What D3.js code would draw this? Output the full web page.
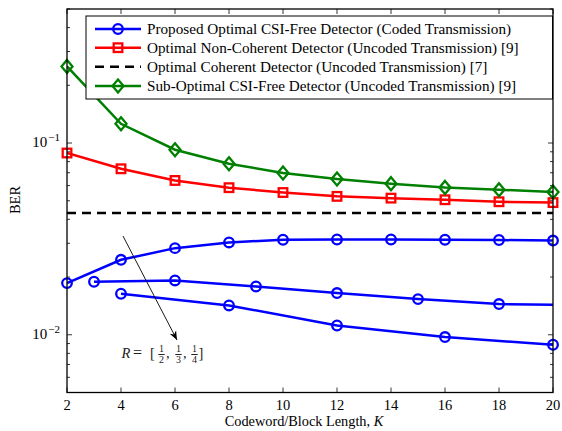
<!DOCTYPE html>
<html><head><meta charset="utf-8">
<script src="https://cdn.jsdelivr.net/npm/d3@7"></script>
<style>body{margin:0;background:#fff}svg{display:block}</style>
</head><body><svg id="c" width="562" height="431" font-family="'Liberation Serif', 'DejaVu Serif', 'Times New Roman', serif"></svg>
<script>
const kTicks = [2,4,6,8,10,12,14,16,18,20];
const kFull = [2,4,6,8,10,12,14,16,18,20];
const berGreen = [0.251,0.126,0.0923,0.078,0.0698,0.0649,0.0614,0.0587,0.0571,0.0555];
const berRed = [0.0887,0.0734,0.0638,0.0585,0.0552,0.0527,0.0516,0.0506,0.0494,0.0489];
const berBlack = 0.0432;
const kHalf = [2,4,6,8,10,12,14,16,18,20];
const berHalf = [0.0186,0.0246,0.0283,0.0303,0.0313,0.0314,0.0314,0.0313,0.0312,0.031];
const kThird = [3,6,9,12,15,18,21];
const berThird = [0.0189,0.0192,0.01786,0.0165,0.01535,0.01446,0.01427];
const kQuarter = [4,8,12,16,20];
const berQuarter = [0.01637,0.01422,0.01118,0.00973,0.00887];
const legendLabels = [
 "Proposed Optimal CSI-Free Detector (Coded Transmission)",
 "Optimal Non-Coherent Detector (Uncoded Transmission) [9]",
 "Optimal Coherent Detector (Uncoded Transmission) [7]",
 "Sub-Optimal CSI-Free Detector (Uncoded Transmission) [9]"];

const svg = d3.select("#c");
const L=67,R=553,T=9,B=392.5;
const x = d3.scaleLinear().domain([2,20]).range([L,R]);
const y = d3.scaleLog().domain([0.005,0.5]).range([B,T]);

svg.append("defs").append("clipPath").attr("id","clip").append("rect")
  .attr("x",L).attr("y",T).attr("width",R-L).attr("height",B-T);

// ticks
const g = svg.append("g");
const tl=5;
kTicks.forEach(k=>{
  g.append("line").attr("x1",x(k)).attr("x2",x(k)).attr("y1",B).attr("y2",B-tl).attr("stroke","#000").attr("stroke-width",0.8);
  g.append("line").attr("x1",x(k)).attr("x2",x(k)).attr("y1",T).attr("y2",T+tl).attr("stroke","#000").attr("stroke-width",0.8);
  g.append("text").attr("x",x(k)).attr("y",410).attr("text-anchor","middle").attr("font-size",14.5).text(k);
});
const yt = y.ticks();
yt.forEach(v=>{
  const major = Math.abs(Math.log10(v)-Math.round(Math.log10(v)))<1e-9;
  const len = major?5:3;
  g.append("line").attr("x1",L).attr("x2",L+len).attr("y1",y(v)).attr("y2",y(v)).attr("stroke","#000").attr("stroke-width",0.8);
  g.append("line").attr("x1",R).attr("x2",R-len).attr("y1",y(v)).attr("y2",y(v)).attr("stroke","#000").attr("stroke-width",0.8);
  if(major){
    const t = g.append("text").attr("x",60).attr("y",y(v)+4).attr("text-anchor","end").attr("font-size",15);
    t.append("tspan").text("10");
    t.append("tspan").attr("dx",1).attr("dy",-6).attr("font-size",11).text("\u2212"+Math.round(-Math.log10(v)));
  }
});

// axis labels
const xl = svg.append("text").attr("x",304).attr("y",425.5).attr("text-anchor","middle").attr("font-size",14.3);
xl.append("tspan").text("Codeword/Block Length, ");
xl.append("tspan").attr("font-style","italic").text("K");
svg.append("text").attr("transform","translate(20,200) rotate(-90)").attr("text-anchor","middle").attr("font-size",14.5).text("BER");

const plot = svg.append("g").attr("clip-path","url(#clip)");
const line = d3.line().x(d=>x(d[0])).y(d=>y(d[1]));
function series(ks,vs,color,marker){
  const pts = ks.map((k,i)=>[k,vs[i]]);
  plot.append("path").attr("d",line(pts)).attr("fill","none").attr("stroke",color).attr("stroke-width",2.5);
  const m = svg.append("g");
  pts.filter(p=>p[0]<=20).forEach(p=>drawMarker(m,x(p[0]),y(p[1]),color,marker));
}
function drawMarker(gr,cx,cy,color,marker){
  if(marker==="o") gr.append("circle").attr("cx",cx).attr("cy",cy).attr("r",4.8).attr("fill","none").attr("stroke",color).attr("stroke-width",2.3);
  else if(marker==="s") gr.append("rect").attr("x",cx-4.3).attr("y",cy-4.3).attr("width",8.6).attr("height",8.6).attr("fill","none").attr("stroke",color).attr("stroke-width",2.3);
  else if(marker==="d") gr.append("path").attr("d",`M${cx},${cy-6.5}L${cx+5.5},${cy}L${cx},${cy+6.5}L${cx-5.5},${cy}Z`).attr("fill","none").attr("stroke",color).attr("stroke-width",2.3);
}
plot.append("line").attr("x1",x(2)).attr("x2",x(20)).attr("y1",y(berBlack)).attr("y2",y(berBlack))
  .attr("stroke","#000").attr("stroke-width",2.5).attr("stroke-dasharray","9,6");
series(kFull,berRed,"#ff0000","s");
series(kFull,berGreen,"#008000","d");
series(kHalf,berHalf,"#0000ff","o");
series(kThird,berThird,"#0000ff","o");
series(kQuarter,berQuarter,"#0000ff","o");

// frame
svg.append("rect").attr("x",L).attr("y",T).attr("width",R-L).attr("height",B-T).attr("fill","none").attr("stroke","#000").attr("stroke-width",1.3);

// annotation
svg.append("defs").append("marker").attr("id","arr").attr("viewBox","0 0 10 10").attr("refX",10).attr("refY",5)
  .attr("markerWidth",9).attr("markerHeight",9).attr("orient","auto").attr("markerUnits","userSpaceOnUse")
  .append("path").attr("d","M0,1L10,5L0,9L3,5Z").attr("fill","#000");
svg.append("line").attr("x1",123).attr("y1",236).attr("x2",177).attr("y2",340).attr("stroke","#000").attr("stroke-width",0.9).attr("marker-end","url(#arr)");
const ann = svg.append("g").attr("font-size",14.5).attr("fill","#222");
ann.append("text").attr("x",121.5).attr("y",358).attr("font-style","italic").text("R");
ann.append("text").attr("x",133).attr("y",358).attr("font-size",16).text("=");
ann.append("text").attr("x",150).attr("y",358).text("[");
const fr=[["1","2",161.5],["1","3",178.5],["1","4",194.5]];
fr.forEach(f=>{
  ann.append("text").attr("x",f[2]).attr("y",352).attr("text-anchor","middle").attr("font-size",10).text(f[0]);
  ann.append("line").attr("x1",f[2]-3.2).attr("x2",f[2]+3.2).attr("y1",354.5).attr("y2",354.5).attr("stroke","#222").attr("stroke-width",1);
  ann.append("text").attr("x",f[2]).attr("y",363).attr("text-anchor","middle").attr("font-size",10).text(f[1]);
});
ann.append("text").attr("x",166).attr("y",358).text(",");
ann.append("text").attr("x",183).attr("y",358).text(",");
ann.append("text").attr("x",198.5).attr("y",358).text("]");

// legend
const lg = svg.append("g");
lg.append("rect").attr("x",86).attr("y",16).attr("width",466.5).attr("height",83).attr("fill","#fff").attr("stroke","#000").attr("stroke-width",1);
const lc = [["#0000ff","o",null],["#ff0000","s",null],["#000","",'9,6'],["#008000","d",null]];
const rowsY=[29,47.7,66.7,86];
legendLabels.forEach((t,i)=>{
  const yy=rowsY[i];
  lg.append("line").attr("x1",95).attr("x2",141).attr("y1",yy).attr("y2",yy).attr("stroke",lc[i][0]).attr("stroke-width",2.5).attr("stroke-dasharray",lc[i][2]);
  if(lc[i][1]) drawMarker(lg,118,yy,lc[i][0],lc[i][1]);
  lg.append("text").attr("x",147).attr("y",yy+5).attr("font-size",15.2).text(t);
});
</script></body></html>
